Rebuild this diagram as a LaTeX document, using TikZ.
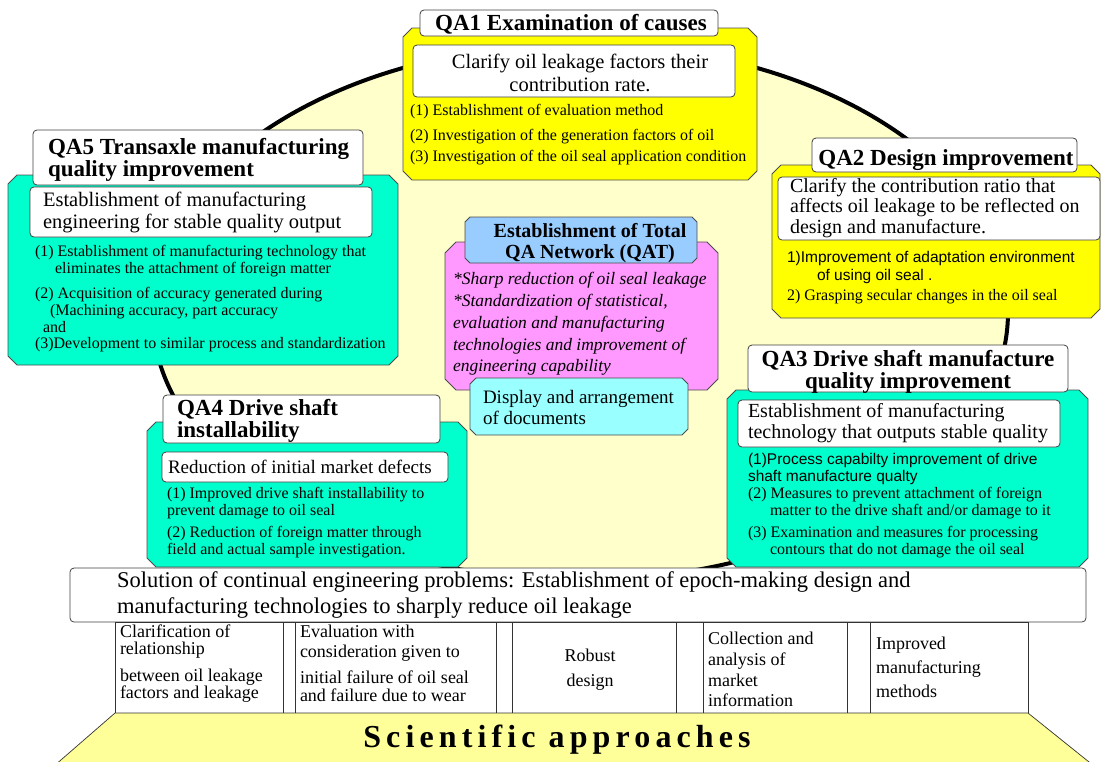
\documentclass[tikz,border=0pt]{standalone}
\usepackage{fontspec}
\setmainfont{Liberation Serif}
\newfontfamily\gothicfont{Liberation Sans}
\definecolor{ellfill}{HTML}{FFFFCC}
\definecolor{qayellow}{HTML}{FFFF00}
\definecolor{qacyan}{HTML}{00FFCC}
\definecolor{qapink}{HTML}{FF99FF}
\definecolor{qablue}{HTML}{99CCFF}
\definecolor{qalcyan}{HTML}{99FFFF}
\definecolor{basefill}{HTML}{FFFF99}
% box with cut corners: style, x1, y1, x2, y2, chamfer
\newcommand\chambox[6]{%
  \path[#1] (#2+#6,#3) -- (#4-#6,#3) -- (#4,#3+#6) -- (#4,#5-#6) -- (#4-#6,#5)
    -- (#2+#6,#5) -- (#2,#5-#6) -- (#2,#3+#6) -- cycle;}
\begin{document}
\begin{tikzpicture}[x=1pt,y=-1pt,
  every node/.style={inner sep=0pt,outer sep=0pt},
  colbox/.style={draw=black!70,line width=0.8pt},
  whitebox/.style={draw=black!75,fill=white,line width=0.8pt,rounded corners=4pt},
  ttl/.style={font=\fontsize{23}{22}\selectfont\bfseries,align=left},
  body/.style={font=\fontsize{20.5}{22}\selectfont,align=left},
  itm/.style={font=\fontsize{16}{17}\selectfont,align=left},
  gitm/.style={font=\gothicfont\fontsize{15.5}{17}\selectfont,align=left},
  cellbox/.style={draw=black!80,line width=0.7pt,fill=white},
  celltxt/.style={font=\fontsize{18}{17}\selectfont,align=left}]
\useasboundingbox (0,0) rectangle (1102,761);

% central field
\draw[line width=4pt,fill=ellfill] (580,312) ellipse [x radius=428,y radius=268];

% QA1
\chambox{colbox,fill=qayellow}{403}{28}{757}{180}{9}
\draw[whitebox] (413,45) rectangle (735,97);
\draw[whitebox] (420,10) rectangle (718,36);
\node[ttl] (qa1t) at (571,24) {QA1 Examination of causes};
\node[body,align=center,font=\fontsize{20.5}{23}\selectfont] (qa1b) at (580,73) {Clarify oil leakage factors their\\contribution rate.};
\node[itm,anchor=west] (qa1i1) at (410,112) {(1) Establishment of evaluation method};
\node[itm,anchor=west] (qa1i2) at (410,137) {(2) Investigation of the generation factors of oil};
\node[itm,anchor=west] (qa1i3) at (410,158) {(3) Investigation of the oil seal application condition};

% QA5
\chambox{colbox,fill=qacyan}{8}{175}{398}{365}{9}
\draw[whitebox] (33,130) rectangle (363,185);
\draw[whitebox] (30,187) rectangle (372,237);
\node[ttl,anchor=west] (qa5t) at (48,160) {QA5 Transaxle manufacturing\\quality improvement};
\node[body,anchor=west] (qa5b) at (43,212.5) {Establishment of manufacturing\\engineering for stable quality output};
\node[itm,anchor=west] (qa5i1) at (35,261.5) {(1) Establishment of manufacturing technology that\\\hspace*{20pt}eliminates the attachment of foreign matter};
\node[itm,anchor=west] (qa5i2) at (35,310) {(2) Acquisition of accuracy generated during\\\hspace*{15pt}(Machining accuracy, part accuracy\\\hspace*{8pt}and};
\node[itm,anchor=west] (qa5i3) at (35,345) {(3)Development to similar process and standardization};

% QA2
\chambox{colbox,fill=qayellow}{772}{165}{1100}{318}{9}
\draw[whitebox] (812,138) rectangle (1077,172);
\draw[whitebox] (778,177) rectangle (1100,240);
\node[ttl] (qa2t) at (946,160) {QA2 Design improvement};
\node[body,anchor=west,font=\fontsize{20}{20.5}\selectfont] (qa2b) at (790,208) {Clarify the contribution ratio that\\affects oil leakage to be reflected on\\design and manufacture.};
\node[gitm,anchor=west,font=\gothicfont\fontsize{15.5}{18}\selectfont] (qa2i1) at (787,267) {1)Improvement of adaptation environment\\\hspace*{30pt}of using oil seal .};
\node[itm,anchor=west] (qa2i2) at (787,297) {2) Grasping secular changes in the oil seal};

% Total QA network
\chambox{colbox,fill=qapink}{445}{242}{718}{390}{11}
\chambox{colbox,fill=qablue}{465}{217}{697}{263}{5}
\chambox{colbox,fill=qalcyan}{470}{378}{688}{435}{6}
\node[font=\fontsize{20}{21}\selectfont\bfseries,align=center] (qatt) at (590,243) {Establishment of Total\\QA Network (QAT)};
\node[font=\fontsize{17.5}{21.75}\selectfont\itshape,align=left,anchor=west] (qatb) at (453,324) {*Sharp reduction of oil seal leakage\\*Standardization of statistical,\\evaluation and manufacturing\\technologies and improvement of\\engineering capability};
\node[font=\fontsize{19}{21}\selectfont,align=left,anchor=west] (qatd) at (483,407) {Display and arrangement\\of documents};

% QA3
\chambox{colbox,fill=qacyan}{727}{390}{1088}{567}{9}
\draw[whitebox] (748,345) rectangle (1068,392);
\draw[whitebox] (738,400) rectangle (1060,447);
\node[ttl,align=center] (qa3t) at (908,372) {QA3 Drive shaft manufacture\\quality improvement};
\node[body,anchor=west,font=\fontsize{20}{21}\selectfont] (qa3b) at (748,423) {Establishment of manufacturing\\technology that outputs stable quality};
\node[gitm,anchor=west] (qa3i1) at (748,468.5) {(1)Process capabilty improvement of drive\\shaft manufacture qualty};
\node[itm,anchor=west] (qa3i2) at (748,503.5) {(2) Measures to prevent attachment of foreign\\\hspace*{22pt}matter to the drive shaft and/or damage to it};
\node[itm,anchor=west] (qa3i3) at (748,542.5) {(3) Examination and measures for processing\\\hspace*{22pt}contours that do not damage the oil seal};

% QA4
\chambox{colbox,fill=qacyan}{147}{422}{467}{567}{9}
\draw[whitebox] (163,395) rectangle (440,443);
\draw[whitebox] (162,452) rectangle (448,482);
\node[ttl,anchor=west] (qa4t) at (177,421) {QA4 Drive shaft\\installability};
\node[body,anchor=west,font=\fontsize{19}{21}\selectfont] (qa4b) at (168,467) {Reduction of initial market defects};
\node[itm,anchor=west] (qa4i1) at (167,503.5) {(1) Improved drive shaft installability to\\prevent damage to oil seal};
\node[itm,anchor=west] (qa4i2) at (167,542.5) {(2) Reduction of foreign matter through\\field and actual sample investigation.};

% engineering problems banner
\draw[whitebox] (70,568) rectangle (1086,622);
\node[font=\fontsize{22.5}{26}\selectfont,align=left,anchor=west] (goal) at (117,595) {Solution of continual engineering problems: Establishment of epoch-making design and\\manufacturing technologies to sharply reduce oil leakage};

% row of approach cells
\draw[cellbox] (115,622) rectangle (1028,713);
\foreach \xx in {283,295,496,512,676,703,847,870}
  \draw[cellbox] (\xx,622) -- (\xx,713);
\node[celltxt,anchor=west] (c1a) at (120,641.5) {Clarification of\\relationship};
\node[celltxt,anchor=west] (c1b) at (120,686) {between oil leakage\\factors and leakage};
\node[celltxt,anchor=west,font=\fontsize{18}{20}\selectfont] (c2a) at (300,643) {Evaluation with\\consideration given to};
\node[celltxt,anchor=west,font=\fontsize{18}{18}\selectfont] (c2b) at (300,686) {initial failure of oil seal\\and failure due to wear};
\node[celltxt,align=center,font=\fontsize{18}{25}\selectfont] (c3) at (590,669.5) {Robust\\design};
\node[celltxt,anchor=west,font=\fontsize{18}{20.7}\selectfont] (c4) at (708,669.5) {Collection and\\analysis of\\market\\information};
\node[celltxt,anchor=west,font=\fontsize{18}{24}\selectfont] (c5) at (876,667) {Improved\\manufacturing\\methods};

% base
\coordinate (bl) at (54,766);
\coordinate (br) at (1094,766);
\draw[draw=black!80,line width=0.7pt,fill=basefill] (115,713) -- (1028,713) -- (br) -- (bl) -- cycle;
\node[font=\fontsize{32}{36}\selectfont\bfseries\addfontfeature{LetterSpace=16}] (sci) at (557,740) {Scientific approaches};
\end{tikzpicture}
\end{document}
